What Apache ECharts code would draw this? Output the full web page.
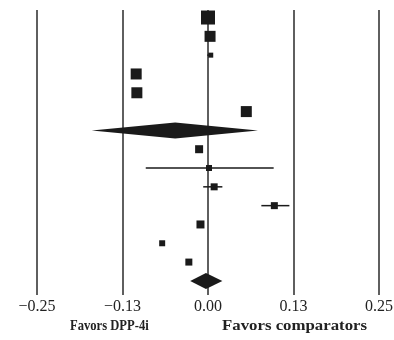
<!DOCTYPE html>
<html>
<head>
<meta charset="utf-8">
<script src="https://cdn.jsdelivr.net/npm/echarts@6/dist/echarts.min.js"></script>
<style>
html,body{margin:0;padding:0;background:#fff;}
#c1{width:394px;height:340px;}
</style>
</head>
<body>
<div id="c1"></div>
<script>
// study rows, top to bottom
const rowIdx    = [0, 1, 2, 3, 4, 5, 7, 8, 9, 10, 11, 12, 13];
const estimates = [0.000, 0.003, 0.004, -0.105, -0.104, 0.056, -0.013, 0.0015, 0.009, 0.097, -0.011, -0.067, -0.028];
const boxSizes  = [14, 11, 5, 11, 11, 11, 8, 6, 7, 7, 8, 6, 7];
// confidence intervals that show outside the boxes
const ciRows = [2, 8, 9, 10];
const ciLow  = [-0.001, -0.091, -0.007, 0.078];
const ciHigh = [0.006, 0.096, 0.021, 0.119];
// pooled estimates (diamonds)
const poolRows = [6, 14];
const poolMid  = [-0.048, -0.003];
const poolLow  = [-0.170, -0.026];
const poolHigh = [0.073, 0.021];
// x axis
const tickVals   = [-0.25, -0.125, 0, 0.125, 0.25];
const tickLabels = ['\u22120.25', '\u22120.13', '0.00', '0.13', '0.25'];

const serif = '"Liberation Serif", "DejaVu Serif", serif';
let chart = echarts.init(document.getElementById('c1'));

let boxData = rowIdx.map((r, i) => [estimates[i], r, boxSizes[i]]);
let ciData = ciRows.map((r, i) => [ciLow[i], ciHigh[i], r]);
let poolData = poolRows.map((r, i) => [poolLow[i], poolMid[i], poolHigh[i], r]);

let option = {
  backgroundColor: '#fff',
  animation: false,
  grid: {left: 37, right: 15, top: 10, bottom: 45, containLabel: false, outerBoundsMode: 'none'},
  xAxis: {
    type: 'value',
    min: -0.25,
    max: 0.25,
    interval: 0.125,
    axisLine: {show: false},
    axisTick: {show: false},
    splitLine: {show: true, lineStyle: {color: '#2a2a2a', width: 1.5}},
    axisLabel: {
      margin: 4,
      color: '#222',
      fontFamily: serif,
      fontSize: 16,
      formatter: function (v) {
        let k = tickVals.findIndex(t => Math.abs(t - v) < 1e-9);
        return k >= 0 ? tickLabels[k] : '';
      }
    }
  },
  yAxis: {
    type: 'value',
    inverse: true,
    min: -0.4,
    max: 14.75,
    show: false
  },
  series: [
    {
      type: 'custom',
      name: 'ci',
      data: ciData,
      encode: {x: [0, 1], y: 2},
      renderItem: function (params, api) {
        let a = api.coord([api.value(0), api.value(2)]);
        let b = api.coord([api.value(1), api.value(2)]);
        return {
          type: 'line',
          shape: {x1: a[0], y1: a[1], x2: b[0], y2: b[1]},
          style: {stroke: '#1a1a1a', lineWidth: 1.5}
        };
      }
    },
    {
      type: 'scatter',
      name: 'studies',
      data: boxData,
      symbol: 'rect',
      symbolSize: function (d) { return d[2]; },
      itemStyle: {color: '#1a1a1a', opacity: 1},
      z: 3
    },
    {
      type: 'custom',
      name: 'pooled',
      data: poolData,
      encode: {x: [0, 1, 2], y: 3},
      z: 4,
      renderItem: function (params, api) {
        let lo = api.coord([api.value(0), api.value(3)]);
        let mid = api.coord([api.value(1), api.value(3)]);
        let hi = api.coord([api.value(2), api.value(3)]);
        let h = 8;
        let y = mid[1];
        return {
          type: 'polygon',
          shape: {points: [[lo[0], y], [mid[0], y - h], [hi[0], y], [mid[0], y + h]]},
          style: {fill: '#1a1a1a'}
        };
      }
    }
  ],
  graphic: [
    {
      type: 'text', left: 70, top: 319, scaleX: 0.9,
      style: {text: 'Favors DPP-4i', fill: '#222', font: 'bold 14px ' + serif}
    },
    {
      type: 'text', left: 222, top: 319, scaleX: 1.2,
      style: {text: 'Favors comparators', fill: '#222', font: 'bold 14px ' + serif}
    }
  ]
};
chart.setOption(option);
</script>
</body>
</html>
